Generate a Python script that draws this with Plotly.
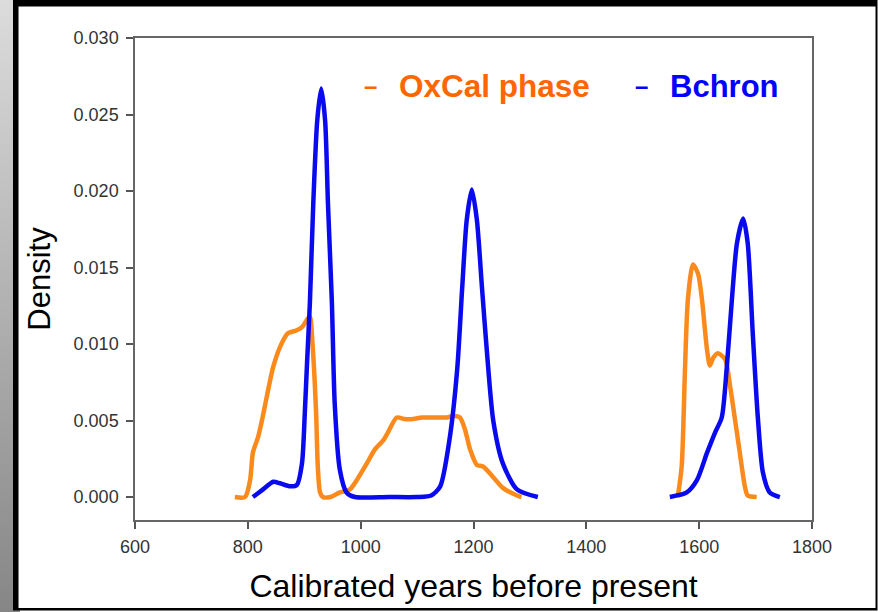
import base64
import plotly.graph_objects as go

# ---------------- data ----------------
oxcal_years_a = [777, 795, 804, 809, 818, 825, 836, 845, 857, 871, 887, 896, 905, 910, 915,
                 921, 924, 928, 933, 946, 963, 981, 993, 1011, 1025, 1040, 1048, 1064, 1078,
                 1093, 1108, 1123, 1138, 1153, 1165, 1176, 1185, 1194, 1206, 1217, 1235, 1252,
                 1277, 1285]
oxcal_dens_a = [0, 0, 0.0011, 0.0029, 0.0039, 0.0050, 0.0070, 0.0085, 0.0098, 0.0107, 0.0109,
                0.0111, 0.0116, 0.0118, 0.0098, 0.0055, 0.0020, 0.0003, 0, 0, 0.0003, 0.0005,
                0.0011, 0.0022, 0.0031, 0.0037, 0.0042, 0.0052, 0.0051, 0.0051, 0.0052, 0.0052,
                0.0052, 0.0052, 0.0053, 0.0052, 0.0044, 0.0031, 0.0021, 0.0020, 0.0013, 0.0006,
                0.0001, 0]
oxcal_years_b = [1562, 1569, 1575, 1580, 1589, 1598, 1605, 1614, 1619, 1625, 1633, 1646, 1655,
                 1663, 1672, 1681, 1686, 1702]
oxcal_dens_b = [0, 0.0020, 0.0085, 0.0129, 0.0152, 0.0146, 0.0129, 0.0096, 0.0086, 0.0091,
                0.0094, 0.0090, 0.0072, 0.0052, 0.0029, 0.0007, 0.0001, 0]

bchron_years_a = [809, 827, 845, 857, 875, 887, 896, 901, 905, 910, 916, 923, 930, 937, 942,
                  949, 954, 963, 975, 990, 1050, 1100, 1125, 1141, 1158, 1171, 1180, 1188,
                  1197, 1206, 1215, 1224, 1235, 1252, 1277, 1314]
bchron_dens_a = [0, 0.0005, 0.0010, 0.0009, 0.0007, 0.0008, 0.0022, 0.0055, 0.0088, 0.0127,
                 0.0192, 0.0246, 0.0267, 0.0246, 0.0192, 0.0127, 0.0061, 0.0018, 0.0003, 0, 0,
                 0, 0.0001, 0.0007, 0.0039, 0.0083, 0.0137, 0.0181, 0.0201, 0.0181, 0.0137,
                 0.0094, 0.0050, 0.0022, 0.0005, 0]
bchron_years_b = [1548, 1578, 1596, 1614, 1628, 1640, 1649, 1658, 1667, 1678, 1686, 1695, 1704,
                  1713, 1725, 1743]
bchron_dens_b = [0, 0.0003, 0.0011, 0.0029, 0.0042, 0.0052, 0.0085, 0.0129, 0.0166, 0.0182,
                 0.0166, 0.0107, 0.0052, 0.0016, 0.0003, 0]

series_names = ["OxCal phase", "Bchron"]
x_ticks = [600, 800, 1000, 1200, 1400, 1600, 1800]
y_ticks = [0.000, 0.005, 0.010, 0.015, 0.020, 0.025, 0.030]

ORANGE_LINE = "#FB8A1C"
BLUE_LINE = "#0A0AEE"
ORANGE_TEXT = "#FF6600"
BLUE_TEXT = "#0000FF"
FONT = "Arial, Liberation Sans"

fig = go.Figure()
fig.add_trace(go.Scatter(
    x=oxcal_years_a + [None] + oxcal_years_b,
    y=oxcal_dens_a + [None] + oxcal_dens_b,
    mode="lines", name=series_names[0], connectgaps=False,
    line=dict(color=ORANGE_LINE, width=4.5, shape="spline", smoothing=0.7),
))
fig.add_trace(go.Scatter(
    x=bchron_years_a + [None] + bchron_years_b,
    y=bchron_dens_a + [None] + bchron_dens_b,
    mode="lines", name=series_names[1], connectgaps=False,
    line=dict(color=BLUE_LINE, width=4.5, shape="spline", smoothing=0.7),
))

# ---------------- frame (gray slide background + black-bordered panel) ----------------
W, H = 878, 612
L, R, T, B = 135, 66, 38, 92
pw, ph = W - L - R, H - T - B


def px2x(px):
    return (px - L) / pw


def py2y(py):
    return (H - B - py) / ph


grad_svg = (
    '<svg xmlns="http://www.w3.org/2000/svg" width="20" height="612" '
    'preserveAspectRatio="none" viewBox="0 0 20 612">'
    '<defs><linearGradient id="g" x1="0" y1="0" x2="0" y2="1">'
    '<stop offset="0" stop-color="#dcdcdc"/><stop offset="1" stop-color="#868686"/>'
    '</linearGradient></defs><rect width="20" height="612" fill="url(#g)"/></svg>'
)
grad_src = "data:image/svg+xml;base64," + base64.b64encode(grad_svg.encode()).decode()

images = [dict(source=grad_src, xref="paper", yref="paper", layer="below",
               x=px2x(0), y=py2y(0), sizex=(20 / pw), sizey=(H / ph),
               xanchor="left", yanchor="top", sizing="stretch")]

shapes = [
    dict(type="rect", xref="paper", yref="paper", layer="below",
         x0=px2x(13), x1=px2x(877.5), y0=py2y(0), y1=py2y(610.5),
         fillcolor="#000000", line=dict(width=0)),
    dict(type="rect", xref="paper", yref="paper", layer="below",
         x0=px2x(18.5), x1=px2x(875.5), y0=py2y(6.5), y1=py2y(608),
         fillcolor="#FFFFFF", line=dict(width=0)),
]

annotations = [
    dict(text="<b>–</b>", x=px2x(370.5), y=py2y(85), xref="paper", yref="paper",
         showarrow=False, font=dict(family=FONT, size=24, color=ORANGE_TEXT),
         xanchor="center", yanchor="middle"),
    dict(text="<b>" + series_names[0] + "</b>", x=px2x(397), y=py2y(86), xref="paper",
         yref="paper", showarrow=False,
         font=dict(family=FONT, size=31.5, color=ORANGE_TEXT),
         xanchor="left", yanchor="middle"),
    dict(text="<b>–</b>", x=px2x(641), y=py2y(85), xref="paper", yref="paper",
         showarrow=False, font=dict(family=FONT, size=24, color=BLUE_TEXT),
         xanchor="center", yanchor="middle"),
    dict(text="<b>" + series_names[1] + "</b>", x=px2x(668), y=py2y(86), xref="paper",
         yref="paper", showarrow=False,
         font=dict(family=FONT, size=31, color=BLUE_TEXT),
         xanchor="left", yanchor="middle"),
]

axis_common = dict(
    showline=True, linecolor="#666666", linewidth=1.5, mirror=True,
    ticks="outside", ticklen=7, tickwidth=1.5, tickcolor="#555555",
    showgrid=False, zeroline=False,
    tickfont=dict(family=FONT, size=18, color="#333333"),
)

fig.update_layout(
    width=W, height=H,
    margin=dict(l=L, r=R, t=T, b=B, pad=0),
    paper_bgcolor="#FFFFFF", plot_bgcolor="#FFFFFF",
    showlegend=False,
    shapes=shapes, annotations=annotations, images=images,
    xaxis=dict(range=[600, 1800], tickvals=x_ticks, ticktext=[str(v) for v in x_ticks],
               title=dict(text="Calibrated years before present",
                          font=dict(family=FONT, size=32, color="#000000"),
                          standoff=18),
               ticklabelstandoff=3,
               **axis_common),
    yaxis=dict(range=[-0.0015, 0.030], tickvals=y_ticks,
               ticktext=[f"{v:.3f}" for v in y_ticks],
               title=dict(text="Density",
                          font=dict(family=FONT, size=31, color="#000000"),
                          standoff=14),
               ticklabelstandoff=4,
               **axis_common),
)

fig.write_html("out.html")
